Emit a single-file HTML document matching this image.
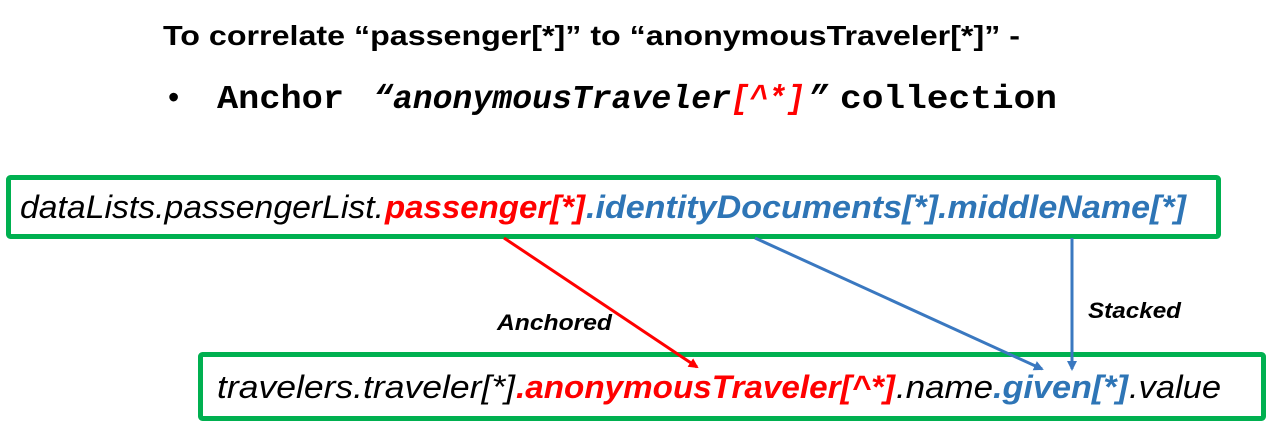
<!DOCTYPE html>
<html><head><meta charset="utf-8"><style>
html,body{margin:0;padding:0;background:#fff;width:1270px;height:431px;overflow:hidden}
svg{display:block}
</style></head><body>
<svg width="1270" height="431" viewBox="0 0 1270 431" xmlns="http://www.w3.org/2000/svg">
<defs>
<marker id="ar" markerWidth="10" markerHeight="10" refX="8" refY="5" orient="auto" markerUnits="userSpaceOnUse"><path d="M0,0 L10,5 L0,10 z" fill="#ff0000"/></marker>
<marker id="ab" markerWidth="10" markerHeight="10" refX="8" refY="5" orient="auto" markerUnits="userSpaceOnUse"><path d="M0,0 L10,5 L0,10 z" fill="#3a78c0"/></marker>
</defs>
<g font-family="Liberation Sans, sans-serif" font-weight="bold" font-size="28">
<text x="163" y="45" textLength="857" lengthAdjust="spacingAndGlyphs">To correlate “passenger[*]” to “anonymousTraveler[*]” -</text>
</g>
<text x="168" y="108" font-family="Liberation Sans, sans-serif" font-size="32">•</text>
<g font-family="Liberation Mono, monospace" font-weight="bold" font-size="33">
<text x="217" y="108" textLength="127" lengthAdjust="spacingAndGlyphs">Anchor</text>
<text x="373" y="108" font-style="italic" textLength="358" lengthAdjust="spacingAndGlyphs">“anonymousTraveler</text>
<text x="731" y="108" font-style="italic" fill="#ff0000" textLength="74" lengthAdjust="spacingAndGlyphs">[^*]</text>
<text x="808" y="108" font-style="italic" textLength="20" lengthAdjust="spacingAndGlyphs">”</text>
<text x="840" y="108" textLength="217" lengthAdjust="spacingAndGlyphs">collection</text>
</g>
<rect x="8.5" y="177.5" width="1210" height="59" fill="none" stroke="#00b050" stroke-width="5" rx="2"/>
<rect x="200.5" y="354.5" width="1063" height="64" fill="none" stroke="#00b050" stroke-width="5" rx="2"/>
<g font-family="Liberation Sans, sans-serif" font-style="italic" font-size="32">
<text x="20" y="218" textLength="364" lengthAdjust="spacingAndGlyphs">dataLists.passengerList.</text>
<text x="385" y="218" fill="#ff0000" font-weight="bold" textLength="200" lengthAdjust="spacingAndGlyphs">passenger[*]</text>
<text x="586" y="218" fill="#2e75b6" font-weight="bold" textLength="600" lengthAdjust="spacingAndGlyphs">.identityDocuments[*].middleName[*]</text>
<text x="217" y="398" textLength="298" lengthAdjust="spacingAndGlyphs">travelers.traveler[*]</text>
<text x="516" y="398" fill="#ff0000" font-weight="bold" textLength="379" lengthAdjust="spacingAndGlyphs">.anonymousTraveler[^*]</text>
<text x="896" y="398" textLength="97" lengthAdjust="spacingAndGlyphs">.name</text>
<text x="993" y="398" fill="#2e75b6" font-weight="bold" textLength="135" lengthAdjust="spacingAndGlyphs">.given[*]</text>
<text x="1129" y="398" textLength="92" lengthAdjust="spacingAndGlyphs">.value</text>
</g>
<line x1="504" y1="238" x2="697" y2="367" stroke="#ff0000" stroke-width="3" marker-end="url(#ar)"/>
<line x1="755" y1="238" x2="1042" y2="369" stroke="#3a78c0" stroke-width="3" marker-end="url(#ab)"/>
<line x1="1072" y1="238" x2="1072" y2="369" stroke="#3a78c0" stroke-width="3" marker-end="url(#ab)"/>
<g font-family="Liberation Sans, sans-serif" font-style="italic" font-weight="bold" font-size="22">
<text x="497" y="330" textLength="115" lengthAdjust="spacingAndGlyphs">Anchored</text>
<text x="1088" y="318" textLength="93" lengthAdjust="spacingAndGlyphs">Stacked</text>
</g>
</svg>
</body></html>
